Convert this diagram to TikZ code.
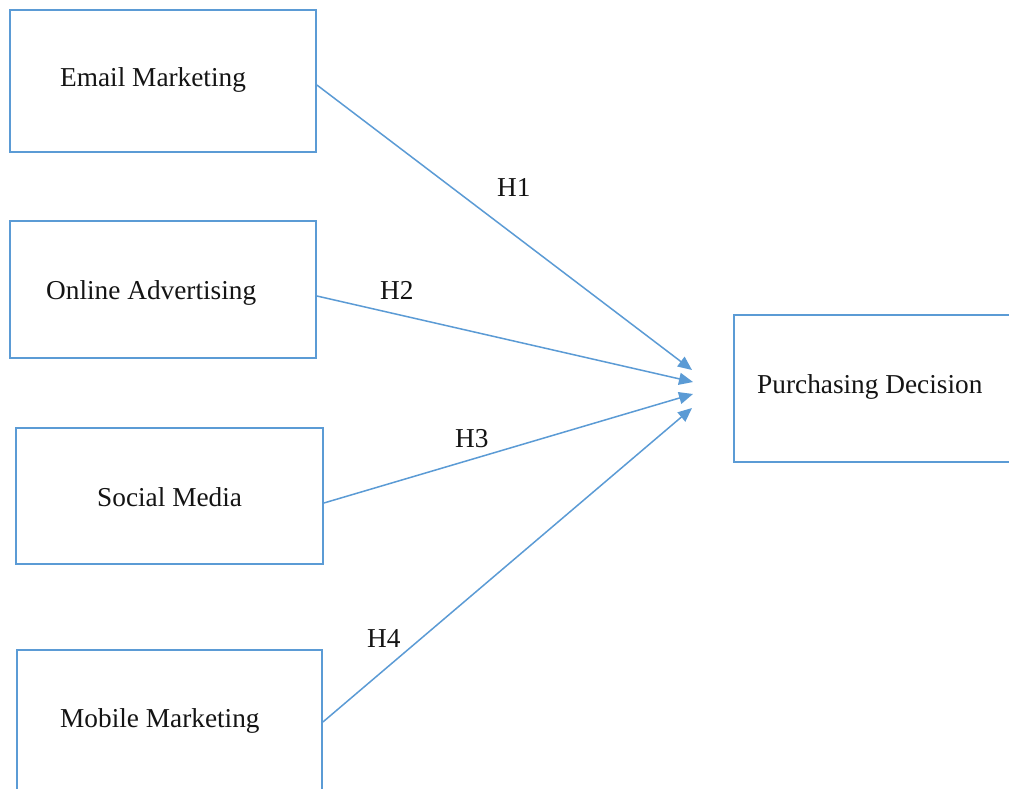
\documentclass[tikz,border=0pt]{standalone}
\usepackage{fontspec}
\setmainfont{Liberation Serif}
\usetikzlibrary{arrows.meta,calc}
\definecolor{lineblue}{RGB}{91,155,213}
\definecolor{txtgray}{RGB}{20,20,20}
\begin{document}
\begin{tikzpicture}[x=1pt,y=-1pt,
  box/.style={draw=lineblue,line width=1.8pt,minimum width=#1,inner sep=0pt,fill=none},
  box/.default=306pt,
  txt/.style={anchor=base west,inner sep=0pt,font=\fontsize{27.3}{31}\selectfont,text=txtgray},
  conn/.style={draw=lineblue,line width=1.5pt,-{Triangle[length=14pt,width=12pt]}}]
\useasboundingbox (0,0) rectangle (1009,789);
\fill[white] (0,0) rectangle (1009,789);
\clip (0,0) rectangle (1009,789);
% boxes
\node[box=306pt,minimum height=142pt] (em) at (163,81) {};
\node[box=306pt,minimum height=137pt] (oa) at (163,289.5) {};
\node[box=307pt,minimum height=136pt] (sm) at (169.5,496) {};
\node[box=305pt,minimum height=160pt] (mm) at (169.5,730) {};
\node[box=300pt,minimum height=147pt] (pd) at (884,388.5) {};
% texts
\node[txt] (emt) at (60,87) {Email Marketing};
\node[txt] (oat) at (46,299) {Online Advertising};
\node[txt] (smt) at (97,506) {Social Media};
\node[txt] (mmt) at (60,727) {Mobile Marketing};
\node[txt] (pdt) at (757,393) {Purchasing Decision};
% arrow tips
\coordinate (t1) at (692,370);
\coordinate (t2) at (693,382);
\coordinate (t3) at (693,394);
\coordinate (t4) at (692,408);
\draw[conn] ($(em.east)+(0,4)$) -- (t1);
\draw[conn] ($(oa.east)+(0,6.5)$) -- (t2);
\draw[conn] ($(sm.east)+(0,7)$) -- (t3);
\draw[conn] ($(mm.east)+(0,-8)$) -- (t4);
% labels
\node[txt] (h1) at (497,196) {H1};
\node[txt] (h2) at (380,299) {H2};
\node[txt] (h3) at (455,447) {H3};
\node[txt] (h4) at (367,647) {H4};
\end{tikzpicture}
\end{document}
